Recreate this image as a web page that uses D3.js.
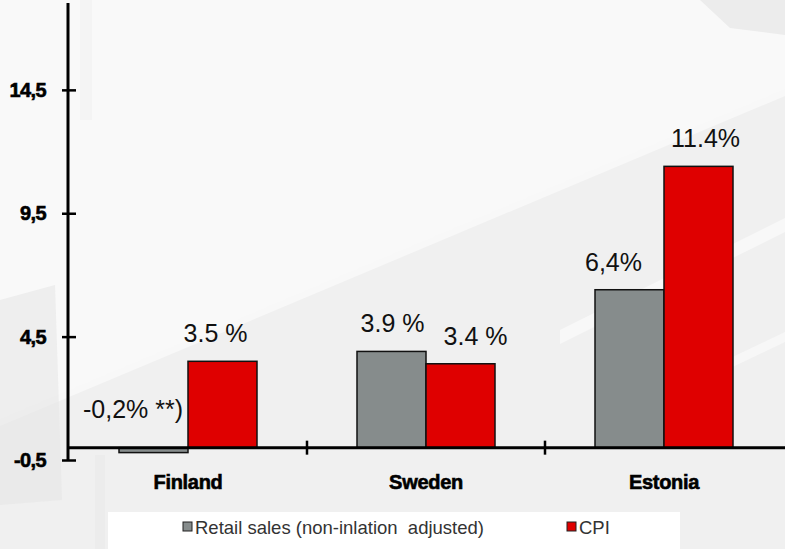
<!DOCTYPE html>
<html>
<head>
<meta charset="utf-8">
<script src="https://cdn.jsdelivr.net/npm/d3@7"></script>
<style>
html,body{margin:0;padding:0;background:#f8f8f8;}
svg{display:block;}
</style>
</head>
<body>
<svg id="chart" width="785" height="549"></svg>
<script>
// ---- data ----
const categories = ["Finland", "Sweden", "Estonia"];
const seriesNames = ["Retail sales (non-inlation  adjusted)", "CPI"];
const retailSales = [-0.2, 3.9, 6.4];
const cpi = [3.5, 3.4, 11.4];
const retailLabels = ["-0,2% **)", "3.9 %", "6,4%"];
const cpiLabels = ["3.5 %", "3.4 %", "11.4%"];
const yTicks = [-0.5, 4.5, 9.5, 14.5];
const yTickLabels = ["-0,5", "4,5", "9,5", "14,5"];

const W = 785, H = 549;
const svg = d3.select("#chart");
const colors = ["#868c8c", "#df0000"];
const FONT = "Liberation Sans, Arial, sans-serif";

// ---- faded background ----
const bg = svg.append("g");
bg.append("rect").attr("width", W).attr("height", H).attr("fill", "#f9f9f9");
bg.append("polygon").attr("points", "0,425 785,95 785,549 0,549").attr("fill", "#f0f0f0");
bg.append("polygon").attr("points", "0,419 785,89 785,96 0,426").attr("fill", "#f8f8f8");
bg.append("polygon").attr("points", "0,300 55,285 62,500 0,505").attr("fill", "#e6e6e6").attr("opacity", 0.6);
bg.append("polygon").attr("points", "700,0 785,0 785,35 730,28").attr("fill", "#ececec");
bg.append("polygon").attr("points", "560,330 785,218 785,232 560,344").attr("fill", "#f8f8f8");
bg.append("polygon").attr("points", "600,420 785,332 785,342 600,430").attr("fill", "#f7f7f7");
bg.append("rect").attr("x", 80).attr("y", 0).attr("width", 12).attr("height", 120).attr("fill", "#f4f4f4");
bg.append("rect").attr("x", 95).attr("y", 455).attr("width", 10).attr("height", 94).attr("fill", "#ececec");

// ---- scales ----
const x = d3.scaleBand().domain(categories).range([69, 783]).padding(0);
const xs = d3.scaleBand().domain(seriesNames).range([50, 188]).padding(0);
const y = d3.scaleLinear().domain([-0.5, 18.02]).range([460, 3]);

const data = categories.map((c, i) => ({
  cat: c,
  vals: [
    {s: seriesNames[0], v: retailSales[i], label: retailLabels[i], k: 0},
    {s: seriesNames[1], v: cpi[i], label: cpiLabels[i], k: 1}
  ]
}));

// ---- bars ----
const groups = svg.append("g").selectAll("g").data(data).join("g")
  .attr("transform", d => `translate(${x(d.cat)},0)`);
groups.selectAll("rect").data(d => d.vals).join("rect")
  .attr("x", d => xs(d.s))
  .attr("width", xs.bandwidth())
  .attr("y", d => Math.min(y(d.v), y(0)))
  .attr("height", d => Math.abs(y(d.v) - y(0)))
  .attr("fill", d => colors[d.k])
  .attr("stroke", "#111")
  .attr("stroke-width", 1.5);

// ---- value labels ----
const nudge = {"3.5 %": -7, "3.9 %": 1, "3.4 %": 15, "6,4%": -16, "11.4%": 7};
groups.selectAll("text").data(d => d.vals).join("text")
  .attr("x", d => d.v < 0 ? xs(seriesNames[1]) - 5 : xs(d.s) + xs.bandwidth() / 2 + (nudge[d.label] || 0))
  .attr("y", d => d.v < 0 ? y(0) - 30 : y(d.v) - 19)
  .attr("text-anchor", d => d.v < 0 ? "end" : "middle")
  .attr("font-family", FONT)
  .attr("font-size", 25)
  .attr("fill", "#111")
  .text(d => d.label);

// ---- y axis ----
const yAxis = svg.append("g").attr("transform", "translate(68,0)");
yAxis.call(d3.axisLeft(y).tickValues(yTicks).tickFormat((d, i) => yTickLabels[i]).tickSize(0).tickPadding(22));
yAxis.select(".domain").remove();
yAxis.append("line").attr("x1", 0).attr("x2", 0).attr("y1", 3).attr("y2", y(-0.5) + 1).attr("stroke", "#000").attr("stroke-width", 3);
yAxis.selectAll(".tick").append("line").attr("x1", -6).attr("x2", 8).attr("stroke", "#000").attr("stroke-width", 2.5);
yAxis.selectAll(".tick text")
  .attr("font-family", FONT)
  .attr("font-weight", "bold")
  .attr("font-size", 20)
  .attr("letter-spacing", -0.6)
  .attr("stroke", "#000").attr("stroke-width", 0.6)
  .attr("fill", "#000");

// ---- x axis ----
const xAxis = svg.append("g").attr("transform", `translate(0,${y(0)})`);
xAxis.call(d3.axisBottom(x).tickSize(0).tickPadding(27));
xAxis.select(".domain").remove();
xAxis.append("line").attr("x1", 68).attr("x2", W).attr("stroke", "#000").attr("stroke-width", 3);
xAxis.selectAll(".tick text")
  .attr("font-family", FONT)
  .attr("font-weight", "bold")
  .attr("font-size", 20)
  .attr("letter-spacing", -0.3)
  .attr("stroke", "#000").attr("stroke-width", 0.6)
  .attr("fill", "#000");
const boundaries = categories.slice(1).map(c => x(c));
xAxis.selectAll("line.sep").data(boundaries).join("line").attr("class", "sep")
  .attr("x1", d => d).attr("x2", d => d).attr("y1", -7).attr("y2", 7)
  .attr("stroke", "#000").attr("stroke-width", 2.5);

// ---- legend ----
const lg = svg.append("g");
lg.append("rect").attr("x", 108).attr("y", 512).attr("width", 572).attr("height", 40).attr("fill", "#ffffff");
const legendX = [183, 567];
const items = lg.selectAll("g.item").data(seriesNames).join("g").attr("class", "item")
  .attr("transform", (d, i) => `translate(${legendX[i]},522)`);
items.append("rect").attr("width", 9).attr("height", 9).attr("fill", (d, i) => colors[i]).attr("stroke", "#222").attr("stroke-width", 1);
items.append("text").attr("x", 12).attr("y", 12)
  .attr("font-family", FONT)
  .attr("font-size", 18.5)
  .attr("fill", "#333")
  .style("white-space", "pre")
  .text(d => d);
</script>
</body>
</html>
